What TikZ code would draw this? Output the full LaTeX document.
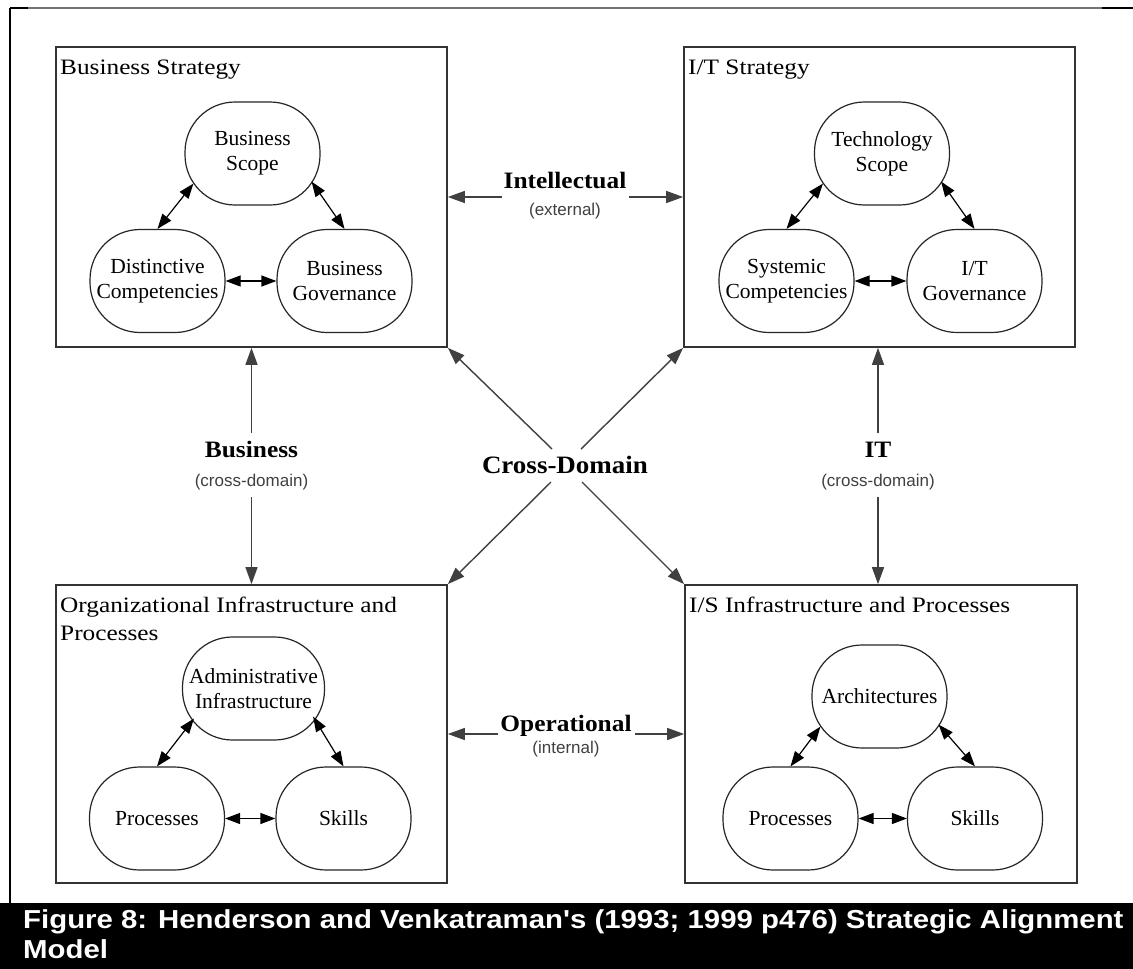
\documentclass[tikz,border=0pt]{standalone}
\usepackage{fontspec}
\setmainfont{Liberation Serif}
\newfontfamily\titlefont[FakeStretch=1.15]{Liberation Serif}
\newfontfamily\labfont[FakeStretch=1.08]{Liberation Serif}
\newfontfamily\notefont{Liberation Sans}
\newfontfamily\capfont[FakeStretch=1.13]{Liberation Sans}
\usetikzlibrary{arrows.meta}

\tikzset{
  domainbox/.style={draw=black!80, line width=1.7pt, minimum width=391pt, minimum height=300pt, inner sep=0pt},
  element/.style={draw=black!85, line width=1.2pt, rounded corners=50pt, minimum width=135pt, minimum height=103pt,
    inner sep=0pt, align=center, font=\fontsize{21.5}{25}\selectfont},
  domtitle/.style={anchor=base west, inner sep=0pt, font=\titlefont\fontsize{22}{28}\selectfont},
  linkname/.style={anchor=base, inner sep=0pt, font=\labfont\bfseries\fontsize{23.5}{28}\selectfont},
  linknote/.style={anchor=base, inner sep=0pt, text=black!75, font=\notefont\fontsize{17}{20}\selectfont},
  fit arrow/.style={black!75, line width=1.4pt, -{Triangle[length=17pt,width=12pt]}},
  inner arrow/.style={black, line width=1.2pt, {Triangle[length=15pt,width=11pt]}-{Triangle[length=15pt,width=11pt]}},
  captext/.style={anchor=base west, inner sep=0pt, text=white, font=\capfont\bfseries\fontsize{26}{30}\selectfont},
}

\begin{document}
\begin{tikzpicture}[x=1pt, y=-1pt]
\useasboundingbox (0,0) rectangle (1133,969);
\fill[white] (0,0) rectangle (1133,969);

% page frame
\draw[black, line width=2pt] (10,8) -- (10,903);
\draw[black!55, line width=1.6pt] (10,8) -- (1133,8);
\draw[black, line width=2pt] (10,8) -- (28,8);
\draw[black, line width=2pt] (1102,8) -- (1133,8);

% the four domains
\node[domainbox] (BS)  at (251.5,197) {};
\node[domainbox] (ITS) at (879.5,197) {};
\node[domainbox, minimum height=298pt] (OIP) at (251.5,734) {};
\node[domainbox, minimum height=298pt, minimum width=392pt] (ISP) at (881,734) {};

\node[domtitle] (tBS)  at (60,74) {Business Strategy};
\node[domtitle] (tITS) at (688,74) {I/T Strategy};
\node[domtitle] (tOIP1) at (60,612) {Organizational Infrastructure and};
\node[domtitle] (tOIP2) at (60,640) {Processes};
\node[domtitle] (tISP) at (689,612) {I/S Infrastructure and Processes};

% Business Strategy components
\node[element] (bs) at (252.5,153.5) {Business\\Scope};
\node[element] (dc) at (157.5,281) {Distinctive\\Competencies};
\node[element] (bg) at (344.5,281) {Business\\Governance};
\draw[inner arrow] (dc.north) -- ([shift={(9,-22)}]bs.south west);
\draw[inner arrow] (bg.north) -- ([shift={(-9,-24)}]bs.south east);
\draw[inner arrow] (dc.east) -- (bg.west);

% I/T Strategy components
\node[element] (ts) at (882,153.5) {Technology\\Scope};
\node[element] (sc) at (786.5,281) {Systemic\\Competencies};
\node[element] (ig) at (974.5,281) {I/T\\Governance};
\draw[inner arrow] (sc.north) -- ([shift={(9,-22)}]ts.south west);
\draw[inner arrow] (ig.north) -- ([shift={(-9,-24)}]ts.south east);
\draw[inner arrow] (sc.east) -- (ig.west);

% Organizational infrastructure components
\node[element, minimum width=142pt] (ai) at (253.5,688.5) {Administrative\\Infrastructure};
\node[element] (pr) at (157,818.5) {Processes};
\node[element] (sk) at (343.5,818.5) {Skills};
\draw[inner arrow] (pr.north) -- ([shift={(12,-22)}]ai.south west);
\draw[inner arrow] (sk.north) -- ([shift={(-12,-24)}]ai.south east);
\draw[inner arrow] (pr.east) -- (sk.west);

% I/S infrastructure components
\node[element] (ar) at (879.5,696.5) {Architectures};
\node[element] (pr2) at (790.5,818.5) {Processes};
\node[element] (sk2) at (975,818.5) {Skills};
\draw[inner arrow] (pr2.north) -- ([shift={(9,-22)}]ar.south west);
\draw[inner arrow] (sk2.north) -- ([shift={(-9,-24)}]ar.south east);
\draw[inner arrow] (pr2.east) -- (sk2.west);

% Intellectual fit
\node[linkname] (intel) at (565,188) {Intellectual};
\node[linknote] (ext) at (565,215) {(external)};
\coordinate (il) at (502,197);
\coordinate (ir) at (629,197);
\draw[fit arrow] (il) -- (BS.east |- il);
\draw[fit arrow] (ir) -- (ITS.west |- ir);

% Operational fit
\node[linkname] (oper) at (566,731) {Operational};
\node[linknote] (int) at (566,753) {(internal)};
\coordinate (ol) at (498,734);
\coordinate (or) at (635,734);
\draw[fit arrow] (ol) -- (OIP.east |- ol);
\draw[fit arrow] (or) -- (ISP.west |- or);

% Business fit
\node[linkname] (bus) at (251.5,457) {Business};
\node[linknote] (bcd) at (251.5,486) {(cross-domain)};
\coordinate (bu) at (251.5,433);
\coordinate (bd) at (251.5,497);
\draw[fit arrow] (bu) -- (BS.south -| bu);
\draw[fit arrow] (bd) -- (OIP.north -| bd);

% IT fit
\node[linkname] (itl) at (878,457) {IT};
\node[linknote] (icd) at (878,486) {(cross-domain)};
\coordinate (tu) at (878,433);
\coordinate (td) at (878,497);
\draw[fit arrow] (tu) -- (ITS.south -| tu);
\draw[fit arrow] (td) -- (ISP.north -| td);

% Cross-domain fit
\node[linkname, font=\labfont\bfseries\fontsize{25}{28}\selectfont] (cross) at (565,473) {Cross-Domain};
\coordinate (c1) at (552,449);
\coordinate (c2) at (581,449);
\coordinate (c3) at (551,482);
\coordinate (c4) at (582,482);
\draw[fit arrow] (c1) -- (BS.south east);
\draw[fit arrow] (c2) -- (ITS.south west);
\draw[fit arrow] (c3) -- (OIP.north east);
\draw[fit arrow] (c4) -- (ISP.north west);

% caption bar
\fill[black] (0,903) rectangle (1133,969);
\node[captext] (cap1) at (23,928)
  {Figure 8: Henderson and Venkatraman's (1993; 1999 p476) Strategic Alignment};
\node[captext] (cap2) at (23,958) {Model};
\end{tikzpicture}
\end{document}
